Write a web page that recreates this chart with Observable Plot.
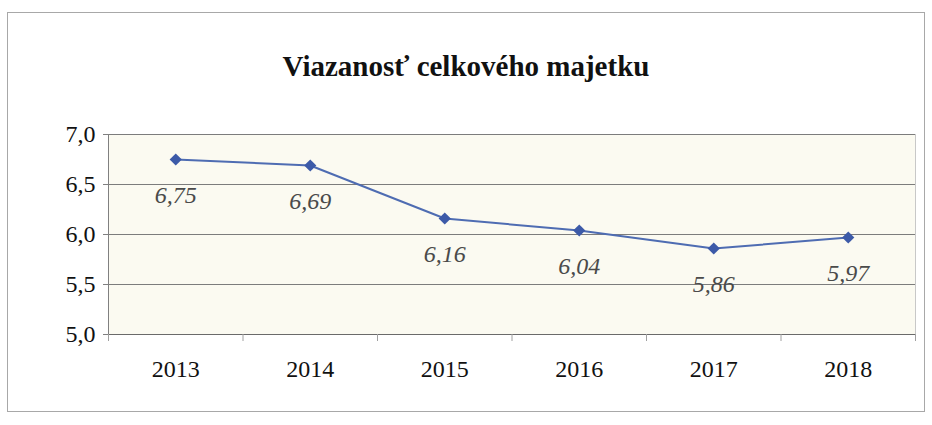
<!DOCTYPE html>
<html>
<head>
<meta charset="utf-8">
<script src="https://cdn.jsdelivr.net/npm/d3@7"></script>
<script src="https://cdn.jsdelivr.net/npm/@observablehq/plot@0.6"></script>
<style>
  html, body { margin: 0; padding: 0; background: #fff; }
  #frame {
    position: absolute; left: 7px; top: 12px;
    width: 916px; height: 398px;
    border: 1px solid #a8a8a8;
    background: #fff;
  }
  #title {
    height: 100px; box-sizing: border-box; padding-top: 38px;
    text-align: center;
    font-family: "Liberation Serif", "Times New Roman", serif;
    font-weight: bold; font-size: 29px; line-height: 30px; color: #111;
  }
</style>
</head>
<body>
<div id="frame">
  <div id="title">Viazanosť celkového majetku</div>
  <div id="chart"></div>
</div>
<script>
const years = [2013, 2014, 2015, 2016, 2017, 2018];
const values = [6.75, 6.69, 6.16, 6.04, 5.86, 5.97];
const yTicks = [5.0, 5.5, 6.0, 6.5, 7.0];

const data = years.map((year, i) => ({year, value: values[i]}));
const fmt = v => v.toFixed(2).replace(".", ",");
const yFmt = v => v.toFixed(1).replace(".", ",");
const boundaries = years.map(y => y - 0.5).concat([years[years.length - 1] + 0.5]);

const chart = Plot.plot({
  width: 916,
  height: 298,
  marginLeft: 100,
  marginRight: 9,
  marginTop: 21,
  marginBottom: 77,
  style: {fontFamily: "'Liberation Serif', 'Times New Roman', serif", fontSize: "24px", color: "#111", background: "transparent"},
  x: {domain: [years[0] - 0.5, years[years.length - 1] + 0.5]},
  y: {domain: [5, 7]},
  marks: [
    Plot.frame({fill: "#fbfaf1", stroke: null}),
    Plot.ruleX([years[years.length - 1] + 0.5], {stroke: "#c8c8c8"}),
    Plot.ruleY(yTicks.filter(t => t > 5), {stroke: "#7c7c7c", strokeWidth: 1}),
    Plot.ruleY([5], {stroke: "#6a6a6a", strokeWidth: 1.2}),
    Plot.ruleX([years[0] - 0.5], {stroke: "#808080"}),
    Plot.axisY({ticks: yTicks, tickFormat: yFmt, tickSize: 5, tickPadding: 8, stroke: "#808080", label: null, fontSize: 24}),
    Plot.axisX({ticks: boundaries, tickFormat: () => "", tickSize: 7, stroke: "#a0a0a0", label: null}),
    Plot.axisX({ticks: years, tickFormat: d => String(d), tickSize: 0, tickPadding: 25, label: null, fontSize: 24}),
    Plot.line(data, {x: "year", y: "value", stroke: "#4e6cb2", strokeWidth: 2}),
    Plot.dot(data, {x: "year", y: "value", symbol: "diamond2", r: 5.5, fill: "#3c5aa8", stroke: null}),
    Plot.text(data, {x: "year", y: "value", text: d => fmt(d.value), dy: 36, fontStyle: "italic", fontSize: 24, fill: "#4a4a4a"})
  ]
});
document.getElementById("chart").appendChild(chart);
</script>
</body>
</html>
